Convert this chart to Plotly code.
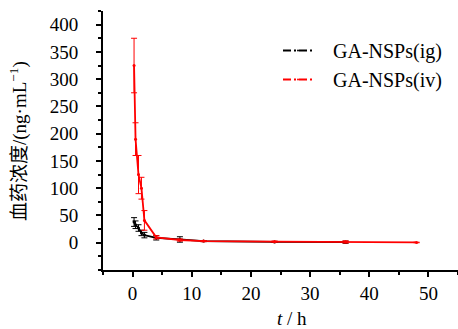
import plotly.graph_objects as go

# ---- data ----
t_ig = [0.25, 0.5, 1, 1.5, 2, 4, 8, 12, 24, 36]
c_ig = [38, 33, 27, 18, 14, 9, 6, 3, 1.5, 1]
e_ig = [8, 7, 6, 5, 5, 4, 5, 1, 1, 2]

t_iv = [0.25, 0.5, 1, 1.5, 2, 4, 8, 12, 24, 36, 48]
c_iv = [325, 190, 125, 100, 41, 10, 5, 3, 2, 1.5, 0.5]
e_iv = [50, 30, 35, 20, 18, 3, 2, 1, 1, 2, 0.5]

series_names = ["GA-NSPs(ig)", "GA-NSPs(iv)"]
x_ticks = [0, 10, 20, 30, 40, 50]
y_ticks = [0, 50, 100, 150, 200, 250, 300, 350, 400]

FONT = "Liberation Serif, Times New Roman, serif"

W, H = 458, 329
ML, MR, MT, MB = 103, 0, 11, 59
PW = W - ML - MR
PH = H - MT - MB

fig = go.Figure()
for t, c, e, col in [(t_ig, c_ig, e_ig, "black"), (t_iv, c_iv, e_iv, "red")]:
    fig.add_trace(go.Scatter(
        x=t, y=c, mode="lines+markers", showlegend=False,
        line=dict(color=col, width=1.8),
        marker=dict(color=col, size=3),
        error_y=dict(type="data", array=e, color=col, thickness=1, width=3),
    ))
for name, col in zip(series_names, ["black", "red"]):
    fig.add_trace(go.Scatter(
        x=[None], y=[None], mode="lines+markers", name="\u00a0\u00a0\u00a0" + name,
        line=dict(color=col, width=2, dash="8px,3px,2px,3px"),
        marker=dict(color=col, size=2),
    ))

def px2paper_x(px):
    return (px - ML) / PW

def px2paper_y(py):
    return (H - MB - py) / PH

fig.update_layout(
    width=W, height=H,
    margin=dict(l=ML, r=MR, t=MT, b=MB, pad=0),
    paper_bgcolor="white", plot_bgcolor="white",
    font=dict(family=FONT, size=19, color="black"),
    showlegend=True,
    legend=dict(
        x=px2paper_x(278), y=px2paper_y(31), xanchor="left", yanchor="top",
        bgcolor="rgba(0,0,0,0)", borderwidth=0,
        font=dict(family=FONT, size=20, color="black"),
        tracegroupgap=0, itemwidth=30,
    ),
    xaxis=dict(
        range=[-5, 55], tickmode="array", tickvals=x_ticks,
        ticktext=[str(v) for v in x_ticks],
        showline=True, linecolor="black", linewidth=2,
        ticks="outside", ticklen=5, tickwidth=2, tickcolor="black",
        minor=dict(dtick=5, tick0=0, ticks="outside", ticklen=3, tickwidth=2, tickcolor="black"),
        showgrid=False, zeroline=False, ticklabelstandoff=0,
        tickfont=dict(family=FONT, size=19),
    ),
    yaxis=dict(
        range=[-50, 425], tickmode="array", tickvals=y_ticks,
        ticktext=[str(v) for v in y_ticks],
        showline=True, linecolor="black", linewidth=2,
        ticks="outside", ticklen=5, tickwidth=2, tickcolor="black",
        minor=dict(dtick=25, tick0=0, ticks="outside", ticklen=3, tickwidth=2, tickcolor="black"),
        showgrid=False, zeroline=False, ticklabelstandoff=14,
        tickfont=dict(family=FONT, size=19),
    ),
    annotations=[
        dict(text="血药浓度/(ng·mL<sup>−1</sup>)", textangle=-90,
             xref="paper", yref="paper", x=px2paper_x(18), y=px2paper_y(141),
             xanchor="center", yanchor="middle", showarrow=False,
             font=dict(family="Liberation Serif, Noto Sans CJK SC", size=19)),
        dict(text="<i>t</i> / h",
             xref="paper", yref="paper", x=px2paper_x(291.7), y=px2paper_y(318),
             xanchor="center", yanchor="middle", showarrow=False,
             font=dict(family=FONT, size=19)),
    ],
)

fig.write_html("out.html", config={"displayModeBar": False},
               post_script="document.body.style.margin='0';document.body.style.overflow='hidden';")
